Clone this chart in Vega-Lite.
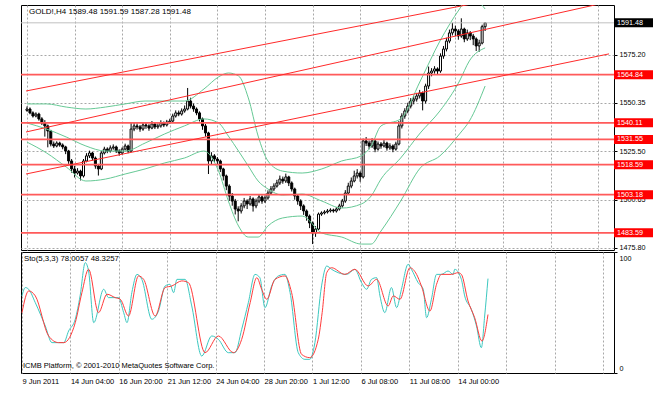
{
  "$schema": "https://vega.github.io/schema/vega-lite/v6.json",
  "padding": {"left": 19, "top": 4, "right": 0, "bottom": 0},
  "background": "white",
  "spacing": 2,
  "bounds": "flush",
  "config": {
    "view": {"stroke": "#000000", "strokeWidth": 1},
    "font": "Liberation Sans",
    "axis": {"labelFont": "Liberation Sans", "labelFontSize": 7.5, "labelColor": "#000000", "gridColor": "#a8a8a8", "gridDash": [2, 2], "gridWidth": 1, "tickColor": "#000000"}
  },
  "datasets": {
    "candles": [
      {"i":0,"o":1546.5,"h":1548.5,"l":1545.8,"c":1547.2},
      {"i":1,"o":1547.2,"h":1548.0,"l":1544.5,"c":1545.2},
      {"i":2,"o":1545.2,"h":1546.0,"l":1542.8,"c":1543.6},
      {"i":3,"o":1543.6,"h":1545.5,"l":1542.9,"c":1544.6},
      {"i":4,"o":1544.6,"h":1545.3,"l":1541.2,"c":1542.1},
      {"i":5,"o":1542.1,"h":1543.0,"l":1539.0,"c":1540.0},
      {"i":6,"o":1540.0,"h":1541.5,"l":1533.0,"c":1538.5},
      {"i":7,"o":1538.5,"h":1539.2,"l":1527.5,"c":1535.9},
      {"i":8,"o":1535.9,"h":1536.5,"l":1528.0,"c":1529.2},
      {"i":9,"o":1529.2,"h":1530.5,"l":1527.2,"c":1528.2},
      {"i":10,"o":1528.2,"h":1530.6,"l":1527.5,"c":1529.7},
      {"i":11,"o":1529.7,"h":1530.4,"l":1527.8,"c":1528.7},
      {"i":12,"o":1528.7,"h":1529.5,"l":1526.5,"c":1527.7},
      {"i":13,"o":1527.7,"h":1528.3,"l":1524.0,"c":1525.6},
      {"i":14,"o":1525.6,"h":1526.2,"l":1519.0,"c":1520.5},
      {"i":15,"o":1520.5,"h":1521.5,"l":1514.5,"c":1516.4},
      {"i":16,"o":1516.4,"h":1518.0,"l":1512.0,"c":1514.3},
      {"i":17,"o":1514.3,"h":1516.8,"l":1513.5,"c":1515.3},
      {"i":18,"o":1515.3,"h":1516.0,"l":1510.5,"c":1512.8},
      {"i":19,"o":1512.8,"h":1521.5,"l":1512.0,"c":1520.5},
      {"i":20,"o":1520.5,"h":1524.5,"l":1519.8,"c":1523.1},
      {"i":21,"o":1523.1,"h":1525.8,"l":1522.0,"c":1524.6},
      {"i":22,"o":1524.6,"h":1525.2,"l":1520.8,"c":1522.0},
      {"i":23,"o":1522.0,"h":1522.8,"l":1516.5,"c":1517.9},
      {"i":24,"o":1517.9,"h":1519.0,"l":1513.0,"c":1516.4},
      {"i":25,"o":1516.4,"h":1525.5,"l":1515.8,"c":1524.6},
      {"i":26,"o":1524.6,"h":1527.8,"l":1523.8,"c":1526.6},
      {"i":27,"o":1526.6,"h":1527.5,"l":1524.5,"c":1525.6},
      {"i":28,"o":1525.6,"h":1528.5,"l":1524.8,"c":1527.2},
      {"i":29,"o":1527.2,"h":1529.0,"l":1526.3,"c":1527.7},
      {"i":30,"o":1527.7,"h":1528.4,"l":1524.6,"c":1525.6},
      {"i":31,"o":1525.6,"h":1526.5,"l":1523.2,"c":1524.6},
      {"i":32,"o":1524.6,"h":1527.5,"l":1523.8,"c":1526.6},
      {"i":33,"o":1526.6,"h":1529.4,"l":1525.9,"c":1528.2},
      {"i":34,"o":1528.2,"h":1528.9,"l":1524.5,"c":1525.6},
      {"i":35,"o":1525.6,"h":1540.5,"l":1525.0,"c":1536.9},
      {"i":36,"o":1536.9,"h":1540.0,"l":1535.8,"c":1538.5},
      {"i":37,"o":1538.5,"h":1539.8,"l":1536.6,"c":1538.0},
      {"i":38,"o":1538.0,"h":1539.0,"l":1535.5,"c":1536.9},
      {"i":39,"o":1536.9,"h":1540.3,"l":1536.0,"c":1539.0},
      {"i":40,"o":1539.0,"h":1540.0,"l":1537.0,"c":1538.5},
      {"i":41,"o":1538.5,"h":1539.4,"l":1536.0,"c":1537.4},
      {"i":42,"o":1537.4,"h":1541.0,"l":1536.8,"c":1539.5},
      {"i":43,"o":1539.5,"h":1540.2,"l":1536.9,"c":1538.0},
      {"i":44,"o":1538.0,"h":1539.8,"l":1537.0,"c":1538.5},
      {"i":45,"o":1538.5,"h":1541.4,"l":1537.6,"c":1540.0},
      {"i":46,"o":1540.0,"h":1540.8,"l":1537.9,"c":1539.0},
      {"i":47,"o":1539.0,"h":1541.6,"l":1538.2,"c":1540.5},
      {"i":48,"o":1540.5,"h":1542.2,"l":1539.6,"c":1541.0},
      {"i":49,"o":1541.0,"h":1544.8,"l":1540.2,"c":1543.6},
      {"i":50,"o":1543.6,"h":1546.5,"l":1542.8,"c":1545.2},
      {"i":51,"o":1545.2,"h":1546.4,"l":1543.5,"c":1544.6},
      {"i":52,"o":1544.6,"h":1547.5,"l":1543.8,"c":1546.2},
      {"i":53,"o":1546.2,"h":1549.0,"l":1545.3,"c":1547.2},
      {"i":54,"o":1547.2,"h":1558.0,"l":1546.5,"c":1551.3},
      {"i":55,"o":1551.3,"h":1553.0,"l":1547.5,"c":1548.7},
      {"i":56,"o":1548.7,"h":1550.0,"l":1545.8,"c":1547.2},
      {"i":57,"o":1547.2,"h":1548.0,"l":1544.0,"c":1545.2},
      {"i":58,"o":1545.2,"h":1546.0,"l":1540.8,"c":1542.1},
      {"i":59,"o":1542.1,"h":1542.8,"l":1536.5,"c":1538.5},
      {"i":60,"o":1538.5,"h":1539.5,"l":1533.0,"c":1534.9},
      {"i":61,"o":1534.9,"h":1535.5,"l":1513.8,"c":1520.5},
      {"i":62,"o":1520.5,"h":1525.0,"l":1518.5,"c":1523.1},
      {"i":63,"o":1523.1,"h":1524.0,"l":1519.8,"c":1521.5},
      {"i":64,"o":1521.5,"h":1522.5,"l":1518.8,"c":1520.5},
      {"i":65,"o":1520.5,"h":1521.2,"l":1514.8,"c":1516.4},
      {"i":66,"o":1516.4,"h":1517.0,"l":1510.5,"c":1512.8},
      {"i":67,"o":1512.8,"h":1513.5,"l":1505.5,"c":1507.6},
      {"i":68,"o":1507.6,"h":1508.5,"l":1500.0,"c":1502.5},
      {"i":69,"o":1502.5,"h":1504.0,"l":1497.5,"c":1499.9},
      {"i":70,"o":1499.9,"h":1501.0,"l":1493.0,"c":1495.8},
      {"i":71,"o":1495.8,"h":1497.2,"l":1489.5,"c":1494.8},
      {"i":72,"o":1494.8,"h":1498.8,"l":1493.5,"c":1497.4},
      {"i":73,"o":1497.4,"h":1501.5,"l":1496.2,"c":1499.9},
      {"i":74,"o":1499.9,"h":1500.8,"l":1495.8,"c":1498.4},
      {"i":75,"o":1498.4,"h":1502.5,"l":1497.5,"c":1501.0},
      {"i":76,"o":1501.0,"h":1501.8,"l":1494.5,"c":1497.4},
      {"i":77,"o":1497.4,"h":1501.2,"l":1496.2,"c":1499.9},
      {"i":78,"o":1499.9,"h":1503.5,"l":1498.8,"c":1502.0},
      {"i":79,"o":1502.0,"h":1502.8,"l":1498.5,"c":1499.9},
      {"i":80,"o":1499.9,"h":1502.8,"l":1498.9,"c":1501.5},
      {"i":81,"o":1501.5,"h":1505.4,"l":1500.6,"c":1504.0},
      {"i":82,"o":1504.0,"h":1507.6,"l":1503.0,"c":1506.1},
      {"i":83,"o":1506.1,"h":1509.0,"l":1505.0,"c":1507.6},
      {"i":84,"o":1507.6,"h":1510.8,"l":1506.8,"c":1509.2},
      {"i":85,"o":1509.2,"h":1513.0,"l":1508.2,"c":1511.2},
      {"i":86,"o":1511.2,"h":1512.5,"l":1508.8,"c":1510.2},
      {"i":87,"o":1510.2,"h":1514.0,"l":1509.2,"c":1512.3},
      {"i":88,"o":1512.3,"h":1512.9,"l":1507.6,"c":1509.2},
      {"i":89,"o":1509.2,"h":1510.0,"l":1504.8,"c":1506.1},
      {"i":90,"o":1506.1,"h":1506.8,"l":1500.6,"c":1502.5},
      {"i":91,"o":1502.5,"h":1503.4,"l":1498.0,"c":1499.9},
      {"i":92,"o":1499.9,"h":1500.8,"l":1495.3,"c":1497.4},
      {"i":93,"o":1497.4,"h":1498.2,"l":1492.8,"c":1494.8},
      {"i":94,"o":1494.8,"h":1495.6,"l":1489.8,"c":1492.2},
      {"i":95,"o":1492.2,"h":1493.0,"l":1486.0,"c":1488.6},
      {"i":96,"o":1488.6,"h":1489.4,"l":1477.8,"c":1483.5},
      {"i":97,"o":1483.5,"h":1487.0,"l":1481.5,"c":1485.5},
      {"i":98,"o":1485.5,"h":1494.0,"l":1485.0,"c":1493.2},
      {"i":99,"o":1493.2,"h":1494.6,"l":1492.3,"c":1493.8},
      {"i":100,"o":1493.8,"h":1495.2,"l":1493.0,"c":1494.3},
      {"i":101,"o":1494.3,"h":1495.8,"l":1493.5,"c":1494.8},
      {"i":102,"o":1494.8,"h":1496.2,"l":1494.0,"c":1495.3},
      {"i":103,"o":1495.3,"h":1496.0,"l":1493.9,"c":1494.8},
      {"i":104,"o":1494.8,"h":1496.8,"l":1494.0,"c":1495.8},
      {"i":105,"o":1495.8,"h":1498.5,"l":1495.0,"c":1497.4},
      {"i":106,"o":1497.4,"h":1501.0,"l":1496.5,"c":1499.9},
      {"i":107,"o":1499.9,"h":1505.5,"l":1499.0,"c":1504.0},
      {"i":108,"o":1504.0,"h":1509.3,"l":1503.0,"c":1507.6},
      {"i":109,"o":1507.6,"h":1512.0,"l":1506.5,"c":1510.2},
      {"i":110,"o":1510.2,"h":1515.5,"l":1509.5,"c":1512.8},
      {"i":111,"o":1512.8,"h":1516.3,"l":1511.5,"c":1514.3},
      {"i":112,"o":1514.3,"h":1515.2,"l":1509.8,"c":1512.3},
      {"i":113,"o":1512.3,"h":1532.0,"l":1511.5,"c":1530.8},
      {"i":114,"o":1530.8,"h":1532.8,"l":1528.2,"c":1529.7},
      {"i":115,"o":1529.7,"h":1531.0,"l":1526.5,"c":1528.2},
      {"i":116,"o":1528.2,"h":1532.2,"l":1527.2,"c":1530.8},
      {"i":117,"o":1530.8,"h":1531.5,"l":1525.0,"c":1526.6},
      {"i":118,"o":1526.6,"h":1530.5,"l":1525.8,"c":1529.2},
      {"i":119,"o":1529.2,"h":1530.2,"l":1526.8,"c":1528.2},
      {"i":120,"o":1528.2,"h":1531.2,"l":1527.4,"c":1529.7},
      {"i":121,"o":1529.7,"h":1530.4,"l":1525.8,"c":1527.2},
      {"i":122,"o":1527.2,"h":1529.6,"l":1526.2,"c":1528.2},
      {"i":123,"o":1528.2,"h":1529.0,"l":1525.0,"c":1526.6},
      {"i":124,"o":1526.6,"h":1530.4,"l":1525.8,"c":1529.2},
      {"i":125,"o":1529.2,"h":1541.0,"l":1528.5,"c":1538.5},
      {"i":126,"o":1538.5,"h":1545.0,"l":1537.2,"c":1543.6},
      {"i":127,"o":1543.6,"h":1547.6,"l":1542.2,"c":1546.2},
      {"i":128,"o":1546.2,"h":1550.4,"l":1545.0,"c":1548.7},
      {"i":129,"o":1548.7,"h":1552.8,"l":1547.5,"c":1551.3},
      {"i":130,"o":1551.3,"h":1554.0,"l":1549.6,"c":1552.3},
      {"i":131,"o":1552.3,"h":1555.5,"l":1551.0,"c":1553.9},
      {"i":132,"o":1553.9,"h":1557.0,"l":1552.6,"c":1555.4},
      {"i":133,"o":1555.4,"h":1556.2,"l":1546.5,"c":1551.3},
      {"i":134,"o":1551.3,"h":1560.2,"l":1550.0,"c":1559.0},
      {"i":135,"o":1559.0,"h":1569.0,"l":1557.5,"c":1565.7},
      {"i":136,"o":1565.7,"h":1568.2,"l":1564.0,"c":1566.7},
      {"i":137,"o":1566.7,"h":1569.2,"l":1565.4,"c":1567.8},
      {"i":138,"o":1567.8,"h":1568.6,"l":1565.2,"c":1566.7},
      {"i":139,"o":1566.7,"h":1575.8,"l":1565.8,"c":1574.4},
      {"i":140,"o":1574.4,"h":1579.6,"l":1573.0,"c":1578.0},
      {"i":141,"o":1578.0,"h":1583.8,"l":1576.8,"c":1582.1},
      {"i":142,"o":1582.1,"h":1588.0,"l":1581.0,"c":1586.3},
      {"i":143,"o":1586.3,"h":1591.5,"l":1585.0,"c":1588.3},
      {"i":144,"o":1588.3,"h":1590.0,"l":1584.6,"c":1587.3},
      {"i":145,"o":1587.3,"h":1588.2,"l":1582.8,"c":1584.7},
      {"i":146,"o":1584.7,"h":1593.8,"l":1583.8,"c":1588.3},
      {"i":147,"o":1588.3,"h":1589.0,"l":1581.5,"c":1583.2},
      {"i":148,"o":1583.2,"h":1588.0,"l":1582.2,"c":1586.3},
      {"i":149,"o":1586.3,"h":1587.2,"l":1582.6,"c":1584.7},
      {"i":150,"o":1584.7,"h":1585.8,"l":1580.0,"c":1583.2},
      {"i":151,"o":1583.2,"h":1584.0,"l":1577.0,"c":1579.6},
      {"i":152,"o":1579.6,"h":1582.8,"l":1576.6,"c":1581.1},
      {"i":153,"o":1581.1,"h":1590.5,"l":1580.4,"c":1589.5},
      {"i":154,"o":1589.48,"h":1591.59,"l":1587.28,"c":1591.48}
    ],
    "bands": [
      {"i":0,"up":1549.8,"mid":1540.0,"lo":1530.2},
      {"i":6.6,"up":1549.8,"mid":1536.9,"lo":1524.6},
      {"i":13.2,"up":1548.2,"mid":1532.8,"lo":1517.4},
      {"i":19.8,"up":1547.2,"mid":1528.2,"lo":1510.2},
      {"i":26.4,"up":1548.2,"mid":1525.6,"lo":1511.2},
      {"i":33,"up":1549.8,"mid":1525.6,"lo":1513.8},
      {"i":39.7,"up":1551.3,"mid":1529.7,"lo":1516.4},
      {"i":46.3,"up":1551.3,"mid":1534.4,"lo":1519.5},
      {"i":52.9,"up":1551.3,"mid":1538.5,"lo":1522.0},
      {"i":59.5,"up":1557.5,"mid":1542.1,"lo":1525.6},
      {"i":64.4,"up":1563.7,"mid":1540.0,"lo":1515.3},
      {"i":67.7,"up":1565.7,"mid":1533.3,"lo":1499.9},
      {"i":71.1,"up":1564.2,"mid":1525.6,"lo":1487.1},
      {"i":74.4,"up":1552.9,"mid":1517.9,"lo":1481.4},
      {"i":77.7,"up":1533.3,"mid":1510.2,"lo":1481.4},
      {"i":81,"up":1520.5,"mid":1506.1,"lo":1487.1},
      {"i":85.9,"up":1515.3,"mid":1503.0,"lo":1491.2},
      {"i":92.5,"up":1514.3,"mid":1503.5,"lo":1492.2},
      {"i":99.1,"up":1516.4,"mid":1499.9,"lo":1483.5},
      {"i":105.8,"up":1520.5,"mid":1496.3,"lo":1481.4},
      {"i":112.4,"up":1523.1,"mid":1498.4,"lo":1477.8},
      {"i":115.7,"up":1528.2,"mid":1502.5,"lo":1477.8},
      {"i":119,"up":1538.5,"mid":1511.2,"lo":1484.5},
      {"i":125.6,"up":1542.1,"mid":1522.0,"lo":1499.9},
      {"i":132.2,"up":1561.6,"mid":1534.9,"lo":1516.9},
      {"i":138.8,"up":1582.1,"mid":1546.2,"lo":1523.1},
      {"i":145.4,"up":1598.6,"mid":1561.6,"lo":1534.4},
      {"i":148.7,"up":1605.3,"mid":1571.9,"lo":1541.0},
      {"i":154,"up":1598.6,"mid":1578.6,"lo":1559.0}
    ],
    "channel": [
      {"i1":-0.33,"p1":1556.45,"i2":195.64,"p2":1614.98},
      {"i1":-0.33,"p1":1535.38,"i2":195.64,"p2":1602.29},
      {"i1":-0.33,"p1":1513.80,"i2":195.64,"p2":1575.52}
    ],
    "levels": [
      {"level":1591.48,"label":"1591.48","kind":"cur"},
      {"level":1564.84,"label":"1564.84","kind":"red"},
      {"level":1540.11,"label":"1540.11","kind":"red"},
      {"level":1531.55,"label":"1531.55","kind":"red"},
      {"level":1518.59,"label":"1518.59","kind":"red"},
      {"level":1503.18,"label":"1503.18","kind":"red"},
      {"level":1483.59,"label":"1483.59","kind":"red"}
    ],
    "stoK": [
      {"i":0,"v":63.7},{"i":1.1,"v":70.6},{"i":2.2,"v":69.2},{"i":4.4,"v":58.1},{"i":7.7,"v":38.8},
      {"i":9.9,"v":25.1},{"i":12.1,"v":25.1},{"i":13.8,"v":25.1},{"i":15.4,"v":34.7},{"i":17.6,"v":44.4},
      {"i":19.2,"v":63.7},{"i":20.9,"v":91.2},{"i":22,"v":84.3},{"i":23.7,"v":41.6},{"i":27,"v":69.2},
      {"i":28.6,"v":62.3},{"i":31.9,"v":62.3},{"i":33.6,"v":49.9},{"i":34.7,"v":41.6},{"i":36.3,"v":66.4},
      {"i":38,"v":81.5},{"i":39.6,"v":77.4},{"i":42.9,"v":44.4},{"i":45.1,"v":51.2},{"i":47.3,"v":71.9},
      {"i":48.9,"v":73.3},{"i":50.1,"v":66.4},{"i":51.2,"v":77.4},{"i":53.9,"v":77.4},{"i":56.1,"v":55.4},
      {"i":59.4,"v":14.0},{"i":62.7,"v":30.6},{"i":64.9,"v":27.8},{"i":68.2,"v":16.8},{"i":70.4,"v":16.8},
      {"i":72.6,"v":36.1},{"i":74.8,"v":58.1},{"i":77,"v":81.5},{"i":78.6,"v":78.8},{"i":80.3,"v":54.0},
      {"i":82.5,"v":71.9},{"i":84.7,"v":80.2},{"i":86.9,"v":81.5},{"i":88.6,"v":66.4},{"i":91.3,"v":16.8},
      {"i":93.5,"v":11.3},{"i":95.1,"v":11.3},{"i":96.8,"v":25.1},{"i":99,"v":72.0},{"i":100.7,"v":88.4},
      {"i":102.3,"v":85.7},{"i":104.5,"v":82.9},{"i":107.3,"v":81.5},{"i":110,"v":85.7},{"i":112.2,"v":74.7},
      {"i":113.9,"v":69.2},{"i":115.5,"v":77.4},{"i":117.2,"v":78.8},{"i":118.3,"v":63.7},{"i":119.9,"v":49.9},
      {"i":122.1,"v":70.6},{"i":123.8,"v":54.0},{"i":125.4,"v":69.2},{"i":127.6,"v":89.8},{"i":128.7,"v":85.7},
      {"i":130.9,"v":74.7},{"i":132.6,"v":69.2},{"i":133.7,"v":45.7},{"i":135.3,"v":60.9},{"i":137,"v":81.5},
      {"i":138.6,"v":81.5},{"i":140.8,"v":84.3},{"i":142.5,"v":81.5},{"i":143,"v":85.7},{"i":145.2,"v":77.4},
      {"i":146.3,"v":63.7},{"i":148.5,"v":52.6},{"i":150.2,"v":38.8},{"i":151.8,"v":20.9},{"i":152.9,"v":47.1},
      {"i":154,"v":78.0057}
    ],
    "stoD": [
      {"i":0,"v":49.9},{"i":2.2,"v":67.8},{"i":4.4,"v":63.7},{"i":8.8,"v":30.6},{"i":12.1,"v":25.1},
      {"i":13.8,"v":25.1},{"i":17.6,"v":41.6},{"i":19.8,"v":66.4},{"i":22,"v":85.7},{"i":25.3,"v":49.9},
      {"i":28.1,"v":65.1},{"i":30.8,"v":62.3},{"i":32.5,"v":60.9},{"i":35.2,"v":47.1},{"i":38.5,"v":80.2},
      {"i":40.2,"v":77.4},{"i":44,"v":47.1},{"i":47.3,"v":70.6},{"i":49.5,"v":71.9},{"i":52.8,"v":76.1},
      {"i":55,"v":74.7},{"i":60.5,"v":16.8},{"i":64.9,"v":30.6},{"i":69.9,"v":16.8},{"i":72.6,"v":27.8},
      {"i":75.4,"v":58.1},{"i":77.6,"v":78.8},{"i":79.2,"v":69.2},{"i":80.9,"v":60.9},{"i":83.6,"v":77.4},
      {"i":86.9,"v":80.2},{"i":89.1,"v":66.4},{"i":92.4,"v":15.4},{"i":95.1,"v":12.7},{"i":97.9,"v":27.8},
      {"i":99.2,"v":50.0},{"i":100.7,"v":82.9},{"i":102.3,"v":87.0},{"i":106.7,"v":81.5},{"i":110,"v":85.7},
      {"i":114.4,"v":71.9},{"i":117.2,"v":77.4},{"i":121,"v":55.4},{"i":122.7,"v":63.7},{"i":124.9,"v":60.9},
      {"i":128.2,"v":87.0},{"i":130.4,"v":81.5},{"i":132,"v":71.9},{"i":134.8,"v":51.2},{"i":137,"v":73.3},
      {"i":138.6,"v":81.5},{"i":141.9,"v":81.5},{"i":144.1,"v":82.9},{"i":145.2,"v":81.5},{"i":147.4,"v":59.5},
      {"i":149.6,"v":45.7},{"i":152,"v":26.4},{"i":154,"v":48.3257}
    ]
  },
  "vconcat": [
    {
      "width": 593,
      "height": 245,
      "layer": [
        {
          "data": {"name": "candles"},
          "mark": {"type": "rule", "color": "#000000", "strokeWidth": 1},
          "encoding": {
            "x": {"field": "i", "type": "quantitative", "title": null,
                  "scale": {"domain": [-0.33, 195.64], "nice": false, "zero": false},
                  "axis": {"values": [0,8,16,24,32,40,48,56,64,72,80,88,96,104,112,120,128,136,144,152,160,168,176,184,192], "labels": false, "ticks": false, "domain": false, "grid": true}},
            "y": {"field": "l", "type": "quantitative", "title": null,
                  "scale": {"domain": [1474.75, 1600.64], "nice": false, "zero": false},
                  "axis": {"orient": "right", "values": [1475.80, 1488.05, 1500.65, 1512.90, 1525.50, 1537.75, 1550.35, 1562.60, 1575.20, 1587.80], "format": ".2f", "grid": true, "domain": false, "tickSize": 3, "labelPadding": 2, "labelFontSize": 7.2}},
            "y2": {"field": "h"}
          }
        },
        {
          "data": {"name": "candles"},
          "mark": {"type": "bar", "size": 2, "stroke": "#000000", "strokeWidth": 1},
          "encoding": {
            "x": {"field": "i", "type": "quantitative", "title": null},
            "y": {"field": "o", "type": "quantitative", "title": null},
            "y2": {"field": "c"},
            "fill": {"condition": {"test": "datum.c >= datum.o", "value": "#ffffff"}, "value": "#000000"}
          }
        },
        {
          "data": {"name": "bands"},
          "mark": {"type": "line", "color": "#66c995", "strokeWidth": 1, "clip": true, "interpolate": "monotone"},
          "encoding": {
            "x": {"field": "i", "type": "quantitative", "title": null},
            "y": {"field": "up", "type": "quantitative", "title": null}
          }
        },
        {
          "data": {"name": "bands"},
          "mark": {"type": "line", "color": "#66c995", "strokeWidth": 1, "clip": true, "interpolate": "monotone"},
          "encoding": {
            "x": {"field": "i", "type": "quantitative", "title": null},
            "y": {"field": "mid", "type": "quantitative", "title": null}
          }
        },
        {
          "data": {"name": "bands"},
          "mark": {"type": "line", "color": "#66c995", "strokeWidth": 1, "clip": true, "interpolate": "monotone"},
          "encoding": {
            "x": {"field": "i", "type": "quantitative", "title": null},
            "y": {"field": "lo", "type": "quantitative", "title": null}
          }
        },
        {
          "data": {"name": "levels"},
          "transform": [{"filter": "datum.kind == 'cur'"}],
          "mark": {"type": "rule", "color": "#c0c0c0", "strokeWidth": 1},
          "encoding": {
            "y": {"field": "level", "type": "quantitative", "title": null}
          }
        },
        {
          "data": {"name": "levels"},
          "transform": [{"filter": "datum.kind == 'red'"}],
          "mark": {"type": "rule", "color": "#ff5a5a", "strokeWidth": 1.8},
          "encoding": {
            "y": {"field": "level", "type": "quantitative", "title": null}
          }
        },
        {
          "data": {"name": "channel"},
          "mark": {"type": "rule", "color": "#ff2a2a", "strokeWidth": 1, "clip": true},
          "encoding": {
            "x": {"field": "i1", "type": "quantitative", "title": null},
            "x2": {"field": "i2"},
            "y": {"field": "p1", "type": "quantitative", "title": null},
            "y2": {"field": "p2"}
          }
        },
        {
          "data": {"values": [{"t": "GOLD!,H4  1589.48 1591.59 1587.28 1591.48"}]},
          "mark": {"type": "text", "align": "left", "baseline": "middle", "fontSize": 8, "font": "Liberation Sans", "color": "#000000"},
          "encoding": {
            "x": {"datum": 0.66, "type": "quantitative"},
            "y": {"datum": 1597.05, "type": "quantitative"},
            "text": {"field": "t"}
          }
        },
        {
          "data": {"name": "levels"},
          "mark": {"type": "point", "shape": "M0,-0.5H5V0.5H0Z", "size": 324, "filled": true, "opacity": 1, "strokeWidth": 0},
          "encoding": {
            "x": {"value": "width"},
            "y": {"field": "level", "type": "quantitative", "title": null},
            "color": {"condition": {"test": "datum.kind == 'cur'", "value": "#000000"}, "value": "#ff0000"}
          }
        },
        {
          "data": {"name": "levels"},
          "mark": {"type": "text", "align": "left", "baseline": "middle", "dx": 3, "fontSize": 7.2, "font": "Liberation Sans", "color": "#ffffff"},
          "encoding": {
            "x": {"value": "width"},
            "y": {"field": "level", "type": "quantitative", "title": null},
            "text": {"field": "label"}
          }
        }
      ]
    },
    {
      "width": 593,
      "height": 121,
      "layer": [
        {
          "data": {"name": "stoK"},
          "mark": {"type": "line", "color": "#3cc8c0", "strokeWidth": 1, "interpolate": "monotone"},
          "encoding": {
            "x": {"field": "i", "type": "quantitative", "title": null,
                  "scale": {"domain": [-0.33, 195.64], "nice": false, "zero": false},
                  "axis": {"values": [0,8,16,24,32,40,48,56,64,72,80,88,96,104,112,120,128,136,144,152,160,168,176,184,192], "grid": true, "ticks": false, "domain": false, "labelAlign": "left", "labelPadding": 4, "labelBound": false, "labelOverlap": false, "labelFlush": false,
                           "labelExpr": "datum.value % 16 == 0 && datum.value <= 144 ? ['9 Jun 2011','14 Jun 04:00','16 Jun 20:00','21 Jun 12:00','24 Jun 04:00','28 Jun 20:00','1 Jul 12:00','6 Jul 08:00','11 Jul 08:00','14 Jul 00:00'][round(datum.value / 16)] : ''"}},
            "y": {"field": "v", "type": "quantitative", "title": null,
                  "scale": {"domain": [0, 100], "nice": false, "zero": false},
                  "axis": {"orient": "right", "values": [0, 100], "grid": false, "domain": false, "tickSize": 3, "labelPadding": 2, "format": "d", "labelFontSize": 7.2,
                           "labelBaseline": "middle",
                           "labelOffset": {"condition": {"test": "datum.value == 100", "value": 6}, "value": -5}}}
          }
        },
        {
          "data": {"name": "stoD"},
          "mark": {"type": "line", "color": "#ff3b3b", "strokeWidth": 1, "interpolate": "monotone"},
          "encoding": {
            "x": {"field": "i", "type": "quantitative", "title": null},
            "y": {"field": "v", "type": "quantitative", "title": null}
          }
        },
        {
          "data": {"values": [{"t": "Sto(5,3,3) 78.0057 48.3257"}]},
          "mark": {"type": "text", "align": "left", "baseline": "middle", "fontSize": 7.8, "font": "Liberation Sans", "color": "#000000"},
          "encoding": {
            "x": {"datum": 0.66, "type": "quantitative"},
            "y": {"datum": 94.2, "type": "quantitative"},
            "text": {"field": "t"}
          }
        },
        {
          "data": {"values": [{"t": "ICMB Platform, © 2001-2010 MetaQuotes Software Corp."}]},
          "mark": {"type": "text", "align": "left", "baseline": "middle", "fontSize": 7.5, "font": "Liberation Sans", "color": "#000000"},
          "encoding": {
            "x": {"datum": 0.33, "type": "quantitative"},
            "y": {"datum": 5.4, "type": "quantitative"},
            "text": {"field": "t"}
          }
        }
      ]
    }
  ]
}
